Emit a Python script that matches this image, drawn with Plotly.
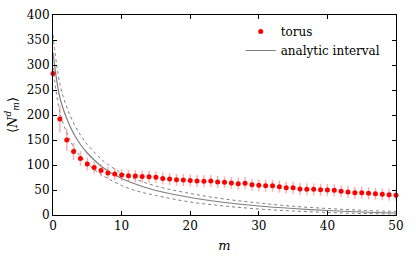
import plotly.graph_objects as go

# --- data ---
m_torus = list(range(0, 51))
torus = [283, 192, 150, 127, 113, 102, 95, 89, 84, 82,
         80, 78.5, 78, 77, 76.5, 75.5, 73, 72, 70.6, 70,
         69, 68, 67.3, 68, 66, 65.3, 64, 62.6, 63.3, 60.6,
         59.3, 58.6, 58.6, 56.6, 54.5, 54.6, 52, 51.3, 51.3, 50.6,
         50, 49.3, 47.3, 46, 44.6, 44.6, 43.3, 42.6, 41.3, 40.6,
         39.3]
torus_err = [4, 27, 22, 17, 15, 13, 12, 12, 12, 12,
             12, 12, 12, 12, 12, 12, 12, 12, 12, 12,
             12, 12, 12, 12, 12, 12, 12, 12, 12, 12,
             12, 12, 12, 12, 12, 12, 12, 12, 12, 12,
             12, 12, 12, 12, 12, 12, 12, 12, 12, 12,
             12]

m_curve = [0, 1, 2, 3, 4, 5, 6, 7, 8, 10, 12, 15, 20, 25, 30, 35, 40, 45, 50]
analytic_mid = [325, 235, 193, 163, 141, 124, 110, 98, 88, 73, 62, 49, 35, 25, 18, 13, 9, 6, 4]
analytic_hi = [360, 262, 216, 184, 160, 141, 126, 112, 101, 84, 72, 58, 43, 32, 24, 17.5, 13, 9.5, 7]
analytic_lo = [295, 205, 165, 136, 117, 103, 91, 81, 73, 59, 49, 39, 26, 18, 12, 8, 5, 3, 2]

x_ticks = [0, 10, 20, 30, 40, 50]
y_ticks = [0, 50, 100, 150, 200, 250, 300, 350, 400]

FONT = "DejaVu Serif"
GRAY = "#7f7f7f"

fig = go.Figure()

fig.add_trace(go.Scatter(
    x=m_curve, y=analytic_hi, mode="lines", line=dict(color=GRAY, width=1, dash="dot", shape="spline"),
    showlegend=False, hoverinfo="skip"))
fig.add_trace(go.Scatter(
    x=m_curve, y=analytic_lo, mode="lines", line=dict(color=GRAY, width=1, dash="dot", shape="spline"),
    showlegend=False, hoverinfo="skip"))
fig.add_trace(go.Scatter(
    x=m_curve, y=analytic_mid, mode="lines", line=dict(color=GRAY, width=1.2, shape="spline"),
    name="analytic interval", legendrank=2))

fig.add_trace(go.Scatter(
    x=m_torus, y=torus, mode="lines+markers", name="torus", legendrank=1,
    line=dict(color="rgba(255,0,0,0)", width=1),
    marker=dict(color="#ff0000", size=5, symbol="circle"),
    error_y=dict(type="data", array=torus_err, visible=True, color="rgba(255,120,120,0.6)",
                 thickness=1.5, width=0),
    cliponaxis=False))

fig.update_layout(
    width=416, height=256,
    margin=dict(l=53, r=20, t=15, b=41, autoexpand=False),
    paper_bgcolor="white", plot_bgcolor="white",
    font=dict(family=FONT, size=12, color="black"),
    legend=dict(x=0.97, y=0.99, xanchor="right", yanchor="top", bgcolor="rgba(0,0,0,0)",
                font=dict(family=FONT, size=12), tracegroupgap=0, itemwidth=30),
    showlegend=True,
)
fig.update_xaxes(
    range=[0, 50], tickvals=x_ticks, ticks="inside", ticklen=4, tickcolor="black",
    showline=True, linecolor="black", linewidth=1, mirror="ticks", showgrid=False, zeroline=False,
    automargin=False,
    title=dict(text="<i>m</i>", standoff=8, font=dict(family=FONT, size=13)),
    tickfont=dict(family=FONT, size=12))
fig.update_yaxes(
    range=[0, 400], tickvals=y_ticks, ticks="inside", ticklen=4, tickcolor="black",
    showline=True, linecolor="black", linewidth=1, mirror="ticks", showgrid=False, zeroline=False,
    automargin=False,
    title=dict(text="⟨<i>N</i><sup><i>d</i></sup><sub><i>m</i></sub>⟩", standoff=6,
               font=dict(family=FONT, size=13)),
    tickfont=dict(family=FONT, size=12))

fig.write_html("out.html", config={"displayModeBar": False},
               post_script="document.body.style.margin='0';")
